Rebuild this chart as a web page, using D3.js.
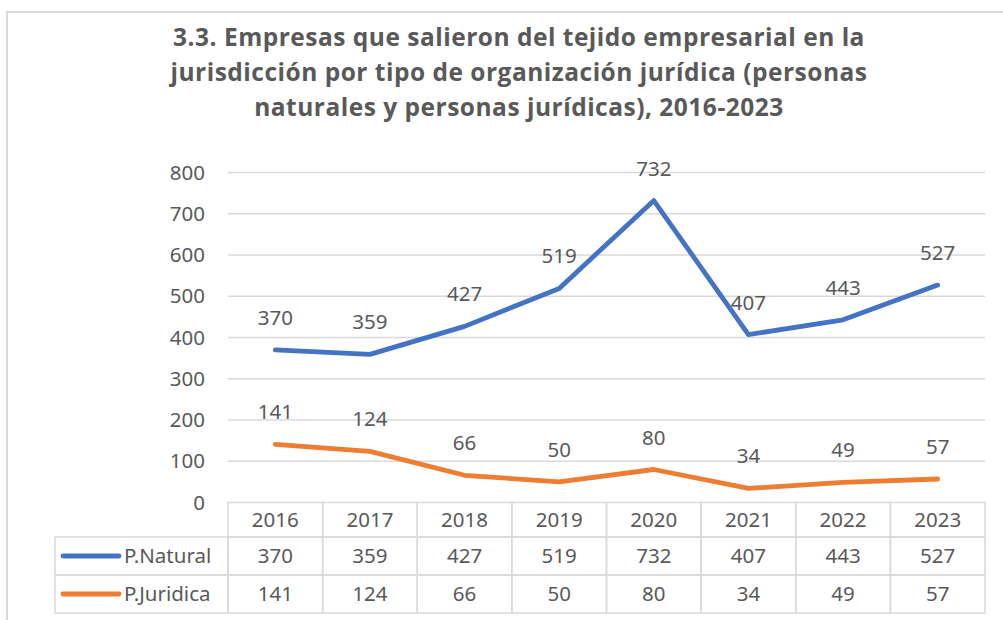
<!DOCTYPE html>
<html>
<head>
<meta charset="utf-8">
<script src="https://cdn.jsdelivr.net/npm/d3@7"></script>
<style>
  body { margin: 0; background: #fff; }
  svg { display: block; }
</style>
</head>
<body>
<div id="chart"></div>
<script>
const width = 1003;
const height = 620;

const titleLines = [
  '3.3. Empresas que salieron del tejido empresarial en la',
  'jurisdicción por tipo de organización jurídica (personas',
  'naturales y personas jurídicas), 2016-2023'
];
const years = ['2016', '2017', '2018', '2019', '2020', '2021', '2022', '2023'];
const natural = [370, 359, 427, 519, 732, 407, 443, 527];
const juridica = [141, 124, 66, 50, 80, 34, 49, 57];
const yTicks = [0, 100, 200, 300, 400, 500, 600, 700, 800];

const series = [
  {name: 'P.Natural', values: natural, color: '#4472C4'},
  {name: 'P.Juridica', values: juridica, color: '#ED7D31'}
];

const textColor = '#595959';
const gridColor = '#d9d9d9';
const font = "'Noto Sans', 'Open Sans', sans-serif";
const fontSize = 20.5;

const svg = d3.select('#chart').append('svg')
  .attr('width', width)
  .attr('height', height);

// chart frame
svg.append('path')
  .attr('d', `M7,${height + 5} V12 H${width + 5}`)
  .attr('fill', 'none')
  .attr('stroke', gridColor)
  .attr('stroke-width', 2);

// title
svg.append('text')
  .attr('text-anchor', 'middle')
  .attr('font-family', "'Open Sans', 'Noto Sans', sans-serif")
  .attr('font-weight', 'bold')
  .attr('font-size', 24.5)
  .attr('letter-spacing', 0.5)
  .attr('fill', textColor)
  .selectAll('tspan')
  .data(titleLines)
  .join('tspan')
  .attr('x', 519)
  .attr('y', (d, i) => 46 + i * 35)
  .text(d => d);

const x = d3.scaleBand()
  .domain(years)
  .range([228, 985]);

const y = d3.scaleLinear()
  .domain([0, 800])
  .range([502.5, 172.5]);

const cx = d => x(d) + x.bandwidth() / 2;

// gridlines
svg.append('g')
  .selectAll('line')
  .data(yTicks.slice(1))
  .join('line')
  .attr('x1', 228)
  .attr('x2', 985)
  .attr('y1', d => y(d))
  .attr('y2', d => y(d))
  .attr('stroke', gridColor)
  .attr('stroke-width', 1.5);

// y axis
const yAxis = svg.append('g')
  .attr('transform', 'translate(205,0)')
  .call(d3.axisLeft(y).tickValues(yTicks).tickSize(0).tickPadding(0));
yAxis.select('.domain').remove();
yAxis.selectAll('text')
  .attr('font-family', font)
  .attr('font-size', fontSize)
  .attr('fill', textColor);

// lines
const line = d3.line()
  .x((d, i) => cx(years[i]))
  .y(d => y(d));

svg.append('g')
  .selectAll('path')
  .data(series)
  .join('path')
  .attr('d', d => line(d.values))
  .attr('fill', 'none')
  .attr('stroke', d => d.color)
  .attr('stroke-width', 4.8)
  .attr('stroke-linejoin', 'round')
  .attr('stroke-linecap', 'round');

// data labels
series.forEach(s => {
  svg.append('g')
    .selectAll('text')
    .data(s.values)
    .join('text')
    .attr('x', (d, i) => cx(years[i]))
    .attr('y', d => y(d) - 25)
    .attr('text-anchor', 'middle')
    .attr('font-family', font)
    .attr('font-size', fontSize)
    .attr('fill', textColor)
    .text(d => d);
});

// data table
const rowTop = [502.5, 537, 575];
const rowH = [34.5, 38, 38];
const legendLeft = 55;
const table = svg.append('g');

// header row
table.selectAll('rect.head')
  .data(years)
  .join('rect')
  .attr('class', 'head')
  .attr('x', d => x(d))
  .attr('y', rowTop[0])
  .attr('width', x.bandwidth())
  .attr('height', rowH[0])
  .attr('fill', 'none')
  .attr('stroke', gridColor)
  .attr('stroke-width', 1.5);

table.selectAll('text.head')
  .data(years)
  .join('text')
  .attr('class', 'head')
  .attr('x', d => cx(d))
  .attr('y', rowTop[0] + rowH[0] / 2)
  .attr('dy', '0.35em')
  .attr('text-anchor', 'middle')
  .attr('font-family', font)
  .attr('font-size', fontSize)
  .attr('fill', textColor)
  .text(d => d);

series.forEach((s, r) => {
  const top = rowTop[r + 1];
  const h = rowH[r + 1];
  const g = table.append('g');

  g.append('rect')
    .attr('x', legendLeft)
    .attr('y', top)
    .attr('width', 228 - legendLeft)
    .attr('height', h)
    .attr('fill', 'none')
    .attr('stroke', gridColor)
    .attr('stroke-width', 1.5);

  g.append('line')
    .attr('x1', 63)
    .attr('x2', 119)
    .attr('y1', top + h / 2)
    .attr('y2', top + h / 2)
    .attr('stroke', s.color)
    .attr('stroke-width', 4.8)
    .attr('stroke-linecap', 'round');

  g.append('text')
    .attr('x', 124)
    .attr('y', top + h / 2)
    .attr('dy', '0.35em')
    .attr('font-family', font)
    .attr('font-size', fontSize)
    .attr('fill', textColor)
    .text(s.name);

  g.selectAll('rect.cell')
    .data(s.values)
    .join('rect')
    .attr('class', 'cell')
    .attr('x', (d, i) => x(years[i]))
    .attr('y', top)
    .attr('width', x.bandwidth())
    .attr('height', h)
    .attr('fill', 'none')
    .attr('stroke', gridColor)
    .attr('stroke-width', 1.5);

  g.selectAll('text.cell')
    .data(s.values)
    .join('text')
    .attr('class', 'cell')
    .attr('x', (d, i) => cx(years[i]))
    .attr('y', top + h / 2)
    .attr('dy', '0.35em')
    .attr('text-anchor', 'middle')
    .attr('font-family', font)
    .attr('font-size', fontSize)
    .attr('fill', textColor)
    .text(d => d);
});
</script>
</body>
</html>
